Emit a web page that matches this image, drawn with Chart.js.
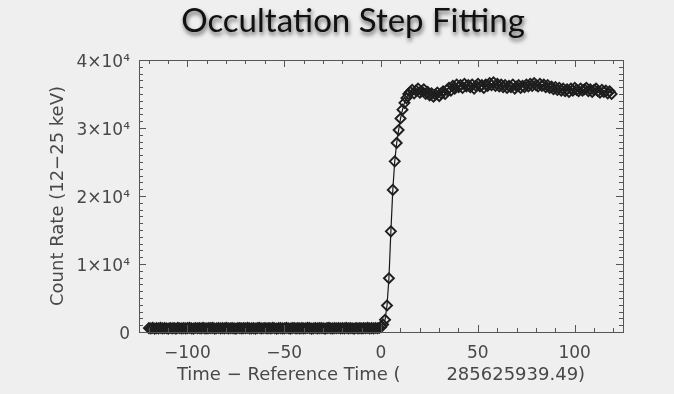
<!DOCTYPE html>
<html lang="en">
<head>
    <meta charset="UTF-8">
    <title>Occultation Step Fitting</title>
    <script src="https://cdn.jsdelivr.net/npm/chart.js"></script>
    <style>
        html, body {
            margin: 0;
            padding: 0;
            background: #efefef;
        }
        #chart-wrap {
            width: 674px;
            height: 394px;
        }
    </style>
</head>
<body>
    <div id="chart-wrap">
        <canvas id="chart1" width="674" height="394"></canvas>
    </div>

    <script>
        // Time axis: one sample per second, starting at this offset from the reference time
        const timeStart = -119.9;
        const timeStep = 1.0;

        // Count rate (12-25 keV), one value per sample
        const countRate = [
            // occulted background
            570, 530, 600, 510, 560, 540, 620, 520, 580, 550,
            510, 590, 540, 570, 500, 610, 550, 530, 580, 520,
            560, 600, 540, 510, 590, 550, 570, 530, 620, 540,
            520, 580, 560, 600, 510, 550, 590, 530, 570, 540,
            610, 520, 550, 580, 540, 500, 590, 560, 530, 570,
            550, 600, 520, 540, 580, 510, 560, 610, 530, 550,
            590, 540, 570, 520, 600, 550, 510, 580, 560, 530,
            540, 620, 550, 510, 570, 590, 530, 560, 540, 580,
            520, 550, 600, 570, 510, 540, 590, 530, 560, 580,
            550, 510, 570, 610, 540, 520, 580, 550, 590, 530,
            560, 540, 600, 520, 570, 550, 510, 590, 540, 580,
            530, 560, 550, 600, 520, 570, 540, 590, 550, 610,
            // rise
            750, 1100, 1800, 3900, 7900, 14800, 20900, 25100, 27800, 29700,
            31400, 32700, 33700, 34400, 35000, 35300,
            // plateau
            35600, 35100, 35500, 35800, 35200, 35400, 35700, 35000, 35300, 34800,
            35100, 34600, 34900, 35200, 34700, 35100, 35400, 35000, 35600, 35900,
            35500, 36200, 35800, 36400, 36000, 36300, 35900, 36500, 36100, 36300,
            36000, 36400, 35800, 36200, 36500, 36100, 36300, 35900, 36400, 36200,
            36600, 36300, 36700, 36200, 36500, 36100, 36400, 36000, 36300, 35900,
            36200, 36000, 36400, 35800, 36100, 36300, 35900, 36200, 36000, 36400,
            36100, 36500, 36200, 36600, 36300, 36100, 36500, 36200, 36400, 36000,
            36300, 35900, 36100, 35700, 36000, 35600, 35900, 35500, 35800, 35400,
            35700, 35300, 35800, 35500, 35900, 35600, 35400, 35800, 35500, 35700,
            35900, 35400, 35700, 35300, 35600, 35800, 35400, 35200, 35600, 35300,
            35500, 35100, 35400, 35000
        ];

        const xTicks = [-100, -50, 0, 50, 100];
        const yTicks = [0, 10000, 20000, 30000, 40000];
        const yTickLabels = ['0', '1×10⁴', '2×10⁴', '3×10⁴', '4×10⁴'];

        const points = countRate.map((v, i) => ({ x: timeStart + i * timeStep, y: v }));

        const textGray = '#484848';
        const frameGray = '#555555';

        // background, title with shadow
        const backgroundAndTitle = {
            id: 'backgroundAndTitle',
            beforeDraw(chart) {
                const ctx = chart.ctx;
                ctx.save();
                ctx.fillStyle = '#efefef';
                ctx.fillRect(0, 0, chart.width, chart.height);
                ctx.restore();
            },
            afterDraw(chart) {
                const ctx = chart.ctx;
                ctx.save();
                ctx.font = '33px Lato';
                ctx.textAlign = 'center';
                ctx.textBaseline = 'alphabetic';
                ctx.shadowColor = 'rgba(0, 0, 0, 0.6)';
                ctx.shadowBlur = 4;
                ctx.shadowOffsetX = 1;
                ctx.shadowOffsetY = 3;
                ctx.fillStyle = '#111111';
                ctx.fillText('Occultation Step Fitting', 353, 32);
                ctx.restore();
            }
        };

        // IDL style box with inward ticks on all four sides
        const boxTicks = {
            id: 'boxTicks',
            afterDatasetsDraw(chart) {
                const ctx = chart.ctx;
                const area = chart.chartArea;
                const xs = chart.scales.x;
                const ys = chart.scales.y;
                ctx.save();
                ctx.strokeStyle = frameGray;
                ctx.lineWidth = 1;
                ctx.strokeRect(area.left + 0.5, area.top + 0.5, area.right - area.left, area.bottom - area.top);
                ctx.beginPath();
                for (let v = -120; v <= 120; v += 10) {
                    const px = Math.round(xs.getPixelForValue(v)) + 0.5;
                    const len = (v % 50 === 0) ? 7 : 4;
                    ctx.moveTo(px, area.bottom);
                    ctx.lineTo(px, area.bottom - len);
                    ctx.moveTo(px, area.top);
                    ctx.lineTo(px, area.top + len);
                }
                for (let v = 0; v <= 40000; v += 1000) {
                    const py = Math.round(ys.getPixelForValue(v)) + 0.5;
                    const len = (v % 10000 === 0) ? 7 : 4;
                    ctx.moveTo(area.left, py);
                    ctx.lineTo(area.left + len, py);
                    ctx.moveTo(area.right, py);
                    ctx.lineTo(area.right - len, py);
                }
                ctx.stroke();
                ctx.restore();
            }
        };

        const ctx = document.getElementById('chart1').getContext('2d');
        new Chart(ctx, {
            type: 'line',
            data: {
                datasets: [{
                    label: 'Count Rate',
                    data: points,
                    borderColor: '#1a1a1a',
                    borderWidth: 1.2,
                    pointStyle: 'rectRot',
                    pointRadius: 5,
                    pointBorderWidth: 1.9,
                    pointBorderColor: '#1e1e1e',
                    pointBackgroundColor: 'rgba(0,0,0,0)',
                    tension: 0,
                    clip: false
                }]
            },
            options: {
                responsive: false,
                animation: false,
                devicePixelRatio: 1,
                layout: {
                    padding: { top: 60, right: 51, bottom: 0, left: 0 }
                },
                plugins: {
                    legend: { display: false },
                    title: { display: false },
                    tooltip: { enabled: false }
                },
                scales: {
                    x: {
                        type: 'linear',
                        min: -125,
                        max: 125,
                        afterFit(scale) { scale.height = 62; },
                        afterBuildTicks(scale) {
                            scale.ticks = xTicks.map(v => ({ value: v }));
                        },
                        grid: { display: false, drawTicks: false },
                        border: { display: false },
                        ticks: {
                            color: textGray,
                            font: { family: 'DejaVu Sans', size: 17 },
                            padding: 11,
                            maxRotation: 0,
                            callback: v => (v < 0 ? '−' + Math.abs(v) : String(v))
                        },
                        title: {
                            display: true,
                            text: 'Time − Reference Time (        285625939.49)',
                            color: textGray,
                            font: { family: 'DejaVu Sans', size: 18 },
                            padding: { top: 0, bottom: 8 }
                        }
                    },
                    y: {
                        type: 'linear',
                        min: 0,
                        max: 40000,
                        afterFit(scale) { scale.width = 139; },
                        afterBuildTicks(scale) {
                            scale.ticks = yTicks.map(v => ({ value: v }));
                        },
                        grid: { display: false, drawTicks: false },
                        border: { display: false },
                        ticks: {
                            color: textGray,
                            font: { family: 'DejaVu Sans', size: 17 },
                            padding: 9,
                            labelOffset: 3,
                            callback: (v) => yTickLabels[yTicks.indexOf(v)]
                        },
                        title: {
                            display: true,
                            text: 'Count Rate (12−25 keV)',
                            color: textGray,
                            font: { family: 'DejaVu Sans', size: 18 },
                            padding: { top: 48, bottom: 0 }
                        }
                    }
                }
            },
            plugins: [backgroundAndTitle, boxTicks]
        });
    </script>
</body>
</html>
